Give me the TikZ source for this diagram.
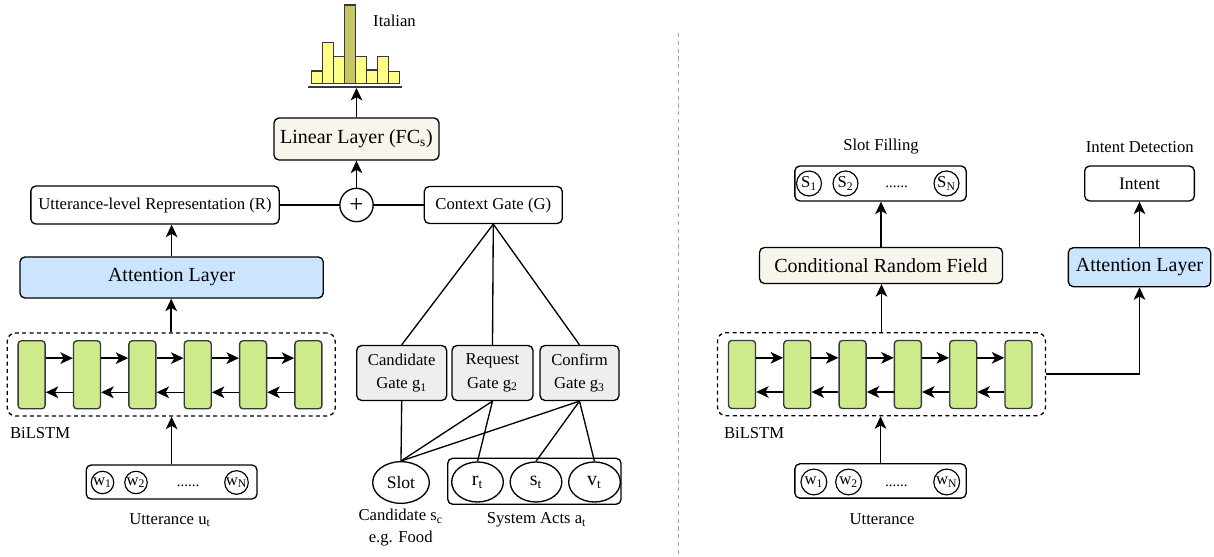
\documentclass[tikz,border=0pt]{standalone}
\usepackage{fontspec}
\setmainfont{Liberation Serif}
\usetikzlibrary{arrows.meta, shapes.geometric}

\definecolor{beige}{HTML}{F7F5EC}
\definecolor{attblue}{HTML}{CCE5FF}
\definecolor{cellgreen}{HTML}{CDEB8B}
\definecolor{gategray}{HTML}{EEEEEE}
\definecolor{baryellow}{HTML}{FFFF88}
\definecolor{barolive}{HTML}{C6C664}
\definecolor{celledge}{HTML}{36393D}

\begin{document}
\begin{tikzpicture}[x=0.6pt, y=-0.6pt,
  box/.style={draw, rounded corners=3pt, line width=0.8pt, inner sep=0pt, align=center, font=\fontsize{10}{14}\selectfont},
  big/.style={font=\fontsize{12}{14}\selectfont},
  cell/.style={draw=celledge, fill=cellgreen, rounded corners=2pt, line width=0.8pt, minimum width=16.2pt, minimum height=40.8pt, inner sep=0pt},
  rnn/.style={draw, dash pattern=on 2.4pt off 2pt, rounded corners=5pt, line width=0.8pt, minimum width=196.8pt, minimum height=49.8pt, inner sep=0pt},
  tok/.style={draw, circle, inner sep=0pt, line width=0.7pt, font=\fontsize{10}{12}\selectfont},
  act/.style={draw, ellipse, inner sep=0pt, line width=0.8pt, minimum width=31pt, minimum height=24pt, font=\fontsize{12}{12}\selectfont},
  arr/.style={-{Stealth[length=7.5pt,width=7pt,inset=2pt]}, line width=0.9pt},
  link/.style={line width=0.8pt},
  lbl/.style={inner sep=1pt, align=center, font=\fontsize{10}{13}\selectfont},
  dots/.style={inner sep=0pt, font=\fontsize{9}{10}\selectfont}
]
\useasboundingbox (0,0) rectangle (1214,557);

\foreach \k/\h in {0/71, 1/42.7, 2/56.7, 4/56.7, 5/70, 6/56.7, 7/71.7}
  \draw[draw=celledge, fill=baryellow, line width=0.8pt] ({311.2+11.03*\k},83.5) rectangle ++(11.03,{\h-83.5});
\draw[draw=celledge, fill=barolive, line width=0.8pt] ({311.2+11.03*3},83.5) rectangle ++(11.03,-78.5);
\draw[draw=celledge, line width=1pt] (308.4,86.7) -- (402.1,86.7);
\coordinate (hist) at (356.5,88);
\node[lbl] (ital) at (394.5,21) {Italian};

\node[box, big, fill=beige, minimum width=99pt, minimum height=25.2pt] (fcs) at (356.5,139) {Linear Layer (FC\textsubscript{s})};
\node[draw, circle, line width=0.8pt, minimum size=20pt, inner sep=0pt, font=\fontsize{15}{15}\selectfont] (sum) at (356.5,205) {+};
\node[box, minimum width=149pt, minimum height=22.8pt] (rep) at (155,205) {Utterance-level Representation (R)};
\node[box, minimum width=82.8pt, minimum height=22.2pt] (ctx) at (493.3,205) {Context Gate (G)};
\node[box, big, fill=attblue, minimum width=182pt, minimum height=24.6pt] (attL) at (171.6,277.5) {Attention Layer};

\node[rnn] (lstmL) at (171.2,374.5) {};
\foreach \i/\x in {1/31.6, 2/87, 3/142.4, 4/197.7, 5/253.1, 6/308.4}
  \node[cell] (cl\i) at (\x,374.8) {};
\foreach \i/\j in {1/2, 2/3, 3/4, 4/5, 5/6} {
  \draw[arr] ([yshift=10pt]cl\i.east) -- ([yshift=10pt]cl\j.west);
  \draw[arr] ([yshift=-10.5pt]cl\j.west) -- ([yshift=-10.5pt]cl\i.east);
}
\node[lbl, anchor=west] (bilL) at (8,433) {BiLSTM};

\node[box, minimum width=102.5pt, minimum height=20.4pt] (wordsL) at (171.6,482) {};
\node[tok, minimum size=13.5pt] (wL1) at (102.5,482.5) {w\textsubscript{1}};
\node[tok, minimum size=13.5pt] (wL2) at (136,482.5) {w\textsubscript{2}};
\node[tok, minimum size=13.5pt] (wLN) at (236.5,482.5) {w\textsubscript{N}};
\node[dots] (dotsL) at (188,486) {......};
\node[lbl] (uttL) at (170,520) {Utterance u\textsubscript{t}};

\node[box, fill=gategray, minimum width=54pt, minimum height=33pt] (gc) at (401.7,373) {Candidate\\Gate g\textsubscript{1}};
\node[box, fill=gategray, minimum width=48.6pt, minimum height=33pt] (gr) at (492.5,373) {Request\\Gate g\textsubscript{2}};
\node[box, fill=gategray, minimum width=47.4pt, minimum height=33pt] (gf) at (579.5,373) {Confirm\\Gate g\textsubscript{3}};

\node[act, minimum width=34pt, minimum height=25pt, font=\fontsize{10.5}{12}\selectfont] (slot) at (401,482.5) {Slot};
\node[box, minimum width=104pt, minimum height=27.6pt] (acts) at (534.4,481.3) {};
\node[act] (rt) at (477.5,482) {r\textsubscript{t}};
\node[act] (st) at (536,482) {s\textsubscript{t}};
\node[act] (vt) at (594.5,482) {v\textsubscript{t}};
\node[lbl] (cand) at (400.7,527.5) {Candidate s\textsubscript{c}\\e.g. Food};
\node[lbl] (sys) at (536.6,520) {System Acts a\textsubscript{t}};

\draw[arr] (fcs.north) -- (hist);
\draw[arr] (sum) -- (fcs);
\draw[link] (rep) -- (sum);
\draw[link] (sum) -- (ctx);
\draw[arr] (attL.north) -- (attL.north |- rep.south);
\draw[arr] (lstmL.north) -- (lstmL.north |- attL.south);
\draw[arr] (wordsL.north) -- (wordsL.north |- lstmL.south);
\draw[link] (ctx.south) -- (gc.north);
\draw[link] (ctx.south) -- (gr.north);
\draw[link] (ctx.south) -- (gf.north);
\draw[link] (gc.south) -- (slot.north);
\draw[link] (gr.south) -- (slot.north);
\draw[link] (gr.south) -- (rt.north);
\draw[link] (gf.south) -- (slot.north);
\draw[link] (gf.south) -- (st.north);
\draw[link] (gf.south) -- (vt.north);

\draw[gray!70, line width=0.8pt, dash pattern=on 2.5pt off 2.2pt] (678.7,33) -- (678.7,557);

\node[lbl] (sf) at (881,146.7) {Slot Filling};
\node[box, minimum width=102.8pt, minimum height=21pt] (slots) at (880.5,183.5) {};
\node[tok, minimum size=15pt] (s1) at (809,183.5) {S\textsubscript{1}};
\node[tok, minimum size=15pt] (s2) at (845.5,183.5) {S\textsubscript{2}};
\node[tok, minimum size=15pt] (sN) at (946.5,183.5) {S\textsubscript{N}};
\node[dots] (dotsS) at (896.5,187) {......};
\node[box, big, fill=beige, minimum width=145.8pt, minimum height=21.6pt] (crf) at (881,265.5) {Conditional Random Field};

\node[lbl] (idt) at (1139.8,146.7) {Intent Detection};
\node[box, minimum width=65.8pt, minimum height=21pt, font=\fontsize{10.5}{12}\selectfont] (intent) at (1139.5,183.5) {Intent};
\node[box, big, fill=attblue, minimum width=85.4pt, minimum height=23.4pt] (attR) at (1139.5,267.2) {Attention Layer};

\node[rnn] (lstmR) at (881.5,374.2) {};
\foreach \i/\x in {1/742, 2/797.3, 3/852.6, 4/907.9, 5/963.2, 6/1018.5}
  \node[cell] (cr\i) at (\x,374.5) {};
\foreach \i/\j in {1/2, 2/3, 3/4, 4/5, 5/6} {
  \draw[arr] ([yshift=10pt]cr\i.east) -- ([yshift=10pt]cr\j.west);
  \draw[arr] ([yshift=-10.5pt]cr\j.west) -- ([yshift=-10.5pt]cr\i.east);
}
\node[lbl, anchor=west] (bilR) at (722,433.3) {BiLSTM};

\node[box, minimum width=102.8pt, minimum height=20.6pt] (wordsR) at (880.5,481) {};
\node[tok, minimum size=15.5pt] (wR1) at (813.9,482) {w\textsubscript{1}};
\node[tok, minimum size=15.5pt] (wR2) at (848.6,482) {w\textsubscript{2}};
\node[tok, minimum size=15.5pt] (wRN) at (946.7,482) {w\textsubscript{N}};
\node[dots] (dotsR) at (896.3,486) {......};
\node[lbl] (uttR) at (882,519) {Utterance};

\draw[arr] (crf.north) -- (crf.north |- slots.south);
\draw[arr] (lstmR.north) -- (lstmR.north |- crf.south);
\draw[arr] (wordsR.north) -- (wordsR.north |- lstmR.south);
\draw[arr] (attR.north) -- (attR.north |- intent.south);
\draw[arr] (lstmR.east) -| (attR.south);
\end{tikzpicture}
\end{document}
